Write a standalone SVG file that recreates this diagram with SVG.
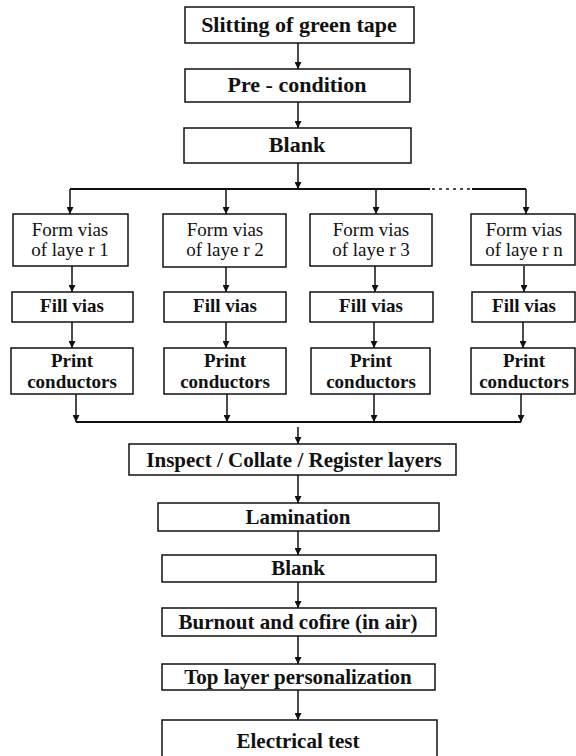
<svg xmlns="http://www.w3.org/2000/svg" width="576" height="756" viewBox="0 0 576 756">
<style>
rect{fill:#fff;stroke:#111;stroke-width:1.5}
text{font-family:"Liberation Serif","Times New Roman",serif;fill:#111;text-anchor:middle}
.t{font-weight:bold;font-size:22px}
.b{font-weight:bold;font-size:21px}
.f{font-size:19px}
.s{font-weight:bold;font-size:19px}
.p{font-weight:bold;font-size:19px}
.c line{stroke:#111;stroke-width:1.5;fill:none}
.c .bus{stroke-width:2}
</style>
<defs>
<marker id="a" viewBox="0 0 10 10" refX="10" refY="5" markerWidth="9" markerHeight="7" markerUnits="userSpaceOnUse" orient="auto">
<path d="M0,0 L10,5 L0,10 z" fill="#111"/>
</marker>
</defs>
<g class="c">
<line x1="298" y1="43" x2="298" y2="69" marker-end="url(#a)"/>
<line x1="298" y1="102" x2="298" y2="128" marker-end="url(#a)"/>
<line x1="298" y1="163" x2="298" y2="189" marker-end="url(#a)"/>
<line class="bus" x1="70" y1="189" x2="430" y2="189"/>
<line x1="432" y1="189" x2="472" y2="189" stroke-dasharray="3,4"/>
<line class="bus" x1="472" y1="189" x2="526" y2="189"/>
<line x1="70" y1="189" x2="70" y2="214" marker-end="url(#a)"/>
<line x1="226" y1="189" x2="226" y2="214" marker-end="url(#a)"/>
<line x1="376" y1="189" x2="376" y2="214" marker-end="url(#a)"/>
<line x1="526" y1="189" x2="526" y2="214" marker-end="url(#a)"/>
<line x1="72" y1="266" x2="72" y2="292" marker-end="url(#a)"/>
<line x1="226" y1="266" x2="226" y2="292" marker-end="url(#a)"/>
<line x1="375" y1="266" x2="375" y2="292" marker-end="url(#a)"/>
<line x1="524" y1="266" x2="524" y2="292" marker-end="url(#a)"/>
<line x1="72" y1="322" x2="72" y2="348" marker-end="url(#a)"/>
<line x1="226" y1="322" x2="226" y2="348" marker-end="url(#a)"/>
<line x1="374" y1="322" x2="374" y2="348" marker-end="url(#a)"/>
<line x1="523" y1="322" x2="523" y2="348" marker-end="url(#a)"/>
<line x1="76" y1="394" x2="76" y2="422" marker-end="url(#a)"/>
<line x1="227" y1="394" x2="227" y2="422" marker-end="url(#a)"/>
<line x1="374" y1="394" x2="374" y2="422" marker-end="url(#a)"/>
<line x1="521" y1="394" x2="521" y2="422" marker-end="url(#a)"/>
<line class="bus" x1="76" y1="422" x2="521" y2="422"/>
<line x1="298" y1="427" x2="298" y2="444" marker-end="url(#a)"/>
<line x1="298" y1="475" x2="298" y2="503" marker-end="url(#a)"/>
<line x1="298" y1="531" x2="298" y2="555" marker-end="url(#a)"/>
<line x1="298" y1="582" x2="298" y2="608" marker-end="url(#a)"/>
<line x1="298" y1="636" x2="298" y2="664" marker-end="url(#a)"/>
<line x1="298" y1="690" x2="298" y2="720" marker-end="url(#a)"/>
</g>
<g id="slitting"><rect x="185" y="7" width="229" height="36"/><text class="t" x="299" y="32">Slitting of green  tape</text></g>
<g id="precondition"><rect x="185" y="69" width="225" height="33"/><text class="t" x="297" y="92">Pre - condition</text></g>
<g id="blank1"><rect x="184" y="128" width="227" height="35"/><text class="t" x="297" y="152">Blank</text></g>
<g id="form1"><rect x="13" y="214" width="115" height="52"/><text class="f" x="70" y="236">Form vias</text><text class="f" x="70" y="256">of laye r 1</text></g>
<g id="form2"><rect x="163" y="214" width="123" height="53"/><text class="f" x="225" y="236">Form vias</text><text class="f" x="225" y="256">of laye r 2</text></g>
<g id="form3"><rect x="310" y="214" width="122" height="52"/><text class="f" x="371" y="236">Form vias</text><text class="f" x="371" y="256">of laye r 3</text></g>
<g id="formn"><rect x="471" y="214" width="104" height="51"/><text class="f" x="524" y="236">Form vias</text><text class="f" x="524" y="256">of laye r n</text></g>
<g id="fill1"><rect x="12" y="292" width="121" height="30"/><text class="s" x="72" y="312">Fill  vias</text></g>
<g id="fill2"><rect x="164" y="292" width="122" height="30"/><text class="s" x="225" y="312">Fill  vias</text></g>
<g id="fill3"><rect x="310" y="292" width="123" height="30"/><text class="s" x="371" y="312">Fill  vias</text></g>
<g id="filln"><rect x="472" y="292" width="103" height="30"/><text class="s" x="524" y="312">Fill  vias</text></g>
<g id="print1"><rect x="11" y="348" width="122" height="46"/><text class="p" x="72" y="367">Print</text><text class="p" x="72" y="388">conductors</text></g>
<g id="print2"><rect x="164" y="348" width="122" height="46"/><text class="p" x="225" y="367">Print</text><text class="p" x="225" y="388">conductors</text></g>
<g id="print3"><rect x="311" y="348" width="119" height="46"/><text class="p" x="371" y="367">Print</text><text class="p" x="371" y="388">conductors</text></g>
<g id="printn"><rect x="471" y="348" width="104" height="46"/><text class="p" x="524" y="367">Print</text><text class="p" x="524" y="388">conductors</text></g>
<g id="inspect"><rect x="129" y="444" width="327" height="31"/><text class="b" x="294" y="467">Inspect / Collate / Register  layers</text></g>
<g id="lamination"><rect x="158" y="503" width="281" height="28"/><text class="b" x="298" y="524">Lamination</text></g>
<g id="blank2"><rect x="162" y="555" width="274" height="27"/><text class="b" x="298" y="575">Blank</text></g>
<g id="burnout"><rect x="162" y="608" width="274" height="28"/><text class="b" x="298" y="629">Burnout and cofire  (in air)</text></g>
<g id="toplayer"><rect x="162" y="664" width="273" height="26"/><text class="b" x="298" y="684">Top layer personalization</text></g>
<g id="electrical"><rect x="162" y="720" width="275" height="40"/><text class="b" x="298" y="748">Electrical test</text></g>
</svg>
